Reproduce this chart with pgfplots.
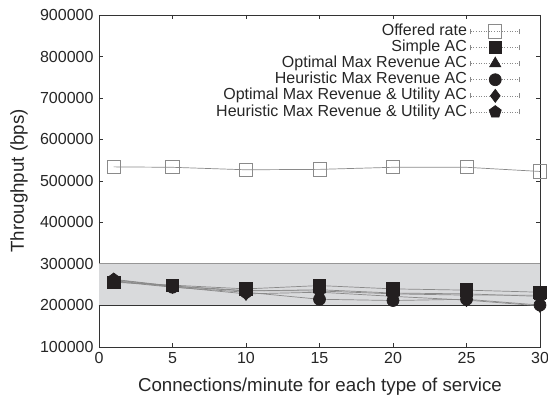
\documentclass[border=0pt]{standalone}
\usepackage{fontspec}
\setmainfont{Liberation Sans}
\usepackage{pgfplots}
\pgfplotsset{compat=1.18}
\definecolor{axc}{HTML}{333333}
\definecolor{band}{HTML}{D9DADC}
\definecolor{lnc}{HTML}{8A8A8A}
\definecolor{mk}{HTML}{231F20}
\begin{document}
\fontsize{16bp}{19bp}\selectfont
\begin{tikzpicture}[font=\fontsize{16bp}{19bp}\selectfont]
\begin{axis}[
  scale only axis, width=441bp, height=332bp,
  xmin=0, xmax=30, ymin=100000, ymax=900000,
  xtick={0,5,...,30}, ytick={100000,200000,...,900000},
  scaled y ticks=false,
  /pgf/number format/assume math mode=true,
  yticklabel style={/pgf/number format/fixed,/pgf/number format/1000 sep={}},
  tick align=inside, major tick length=4bp,
  xtick pos=both, ytick pos=both,
  axis line style={axc, line width=0.8bp},
  every tick/.style={axc, line width=0.6bp},
  ticklabel style={text=black!85, font=\fontsize{16bp}{19bp}\selectfont},
  xlabel={Connections/minute for each type of service},
  ylabel={Throughput (bps)},
  every axis x label/.style={at={(axis description cs:0.501,-0.1346)}, anchor=base, text=black!85, font=\fontsize{18.7bp}{22bp}\selectfont},
  every axis y label/.style={at={(axis description cs:-0.1815,0.5)}, rotate=90, anchor=center, text=black!85, font=\fontsize{18.7bp}{22bp}\selectfont},
  legend cell align=right, legend plot pos=right,
  legend style={at={(rel axis cs:0.962,0.98)}, anchor=north east, draw=none, fill=none,
    row sep=0.9bp, font=\fontsize{16bp}{19bp}\selectfont,
    nodes={inner xsep=3.5bp, inner ysep=0.2bp, text height=11.5bp, text depth=3.3bp, text=black!85}},
  legend image code/.code={
    \draw[lnc, dotted, line width=0.6bp, mark=none] (0bp,0bp) -- (49bp,0bp);
    \draw[lnc, solid, line width=0.6bp, mark=none] (0bp,-2.5bp) -- (0bp,2.5bp) (49bp,-2.5bp) -- (49bp,2.5bp);
    \draw[draw=none, mark repeat=3, mark phase=2] plot coordinates {(0bp,0bp) (24.5bp,0bp) (49bp,0bp)};
  },
  clip=false,
]
\addplot[fill=band, draw=none, forget plot] coordinates {(0,200000) (30,200000) (30,300000) (0,300000)} -- cycle;
\addplot[lnc!90, line width=1bp, forget plot] coordinates {(0,300000) (30,300000)};
\addplot[axc, line width=0.8bp, forget plot] coordinates {(0,200000) (30,200000)};

\addplot[lnc, line width=0.7bp, mark=square, mark size=6.6bp, mark options={solid, draw=lnc, fill=none, line width=0.8bp}]
 coordinates {(1,534000) (5,533000) (10,527000) (15,528000) (20,533000) (25,533000) (30,523000)};
\addlegendentry{Offered rate}
\addplot[lnc, line width=0.7bp, mark=square*, mark size=6.3bp, mark options={solid, draw=mk, fill=mk}]
 coordinates {(1,256000) (5,249000) (10,240000) (15,248000) (20,240000) (25,237000) (30,232000)};
\addlegendentry{Simple AC}
\addplot[lnc, line width=0.7bp, mark=triangle*, mark size=6.5bp, mark options={solid, draw=mk, fill=mk}]
 coordinates {(1,262000) (5,246000) (10,235000) (15,238000) (20,230000) (25,228000) (30,222000)};
\addlegendentry{Optimal Max Revenue AC}
\addplot[lnc, line width=0.7bp, mark=*, mark size=6bp, mark options={solid, draw=mk, fill=mk}]
 coordinates {(1,258000) (5,244000) (10,232000) (15,215000) (20,212000) (25,215000) (30,201000)};
\addlegendentry{Heuristic Max Revenue AC}
\addplot[lnc, line width=0.7bp, mark=diamond*, mark size=6.5bp, mark options={solid, draw=mk, fill=mk}]
 coordinates {(1,260000) (5,245000) (10,228000) (15,232000) (20,222000) (25,213000) (30,199000)};
\addlegendentry{Optimal Max Revenue \& Utility AC}
\addplot[lnc, line width=0.7bp, mark=pentagon*, mark size=6.3bp, mark options={solid, draw=mk, fill=mk}]
 coordinates {(1,263000) (5,247000) (10,236000) (15,235000) (20,228000) (25,225000) (30,225000)};
\addlegendentry{Heuristic Max Revenue \& Utility AC}
\end{axis}
\pgfresetboundingbox
\path[use as bounding box] ([xshift=-99bp,yshift=-49bp]current axis.south west) rectangle ([xshift=8bp,yshift=15bp]current axis.north east);
\end{tikzpicture}
\end{document}
